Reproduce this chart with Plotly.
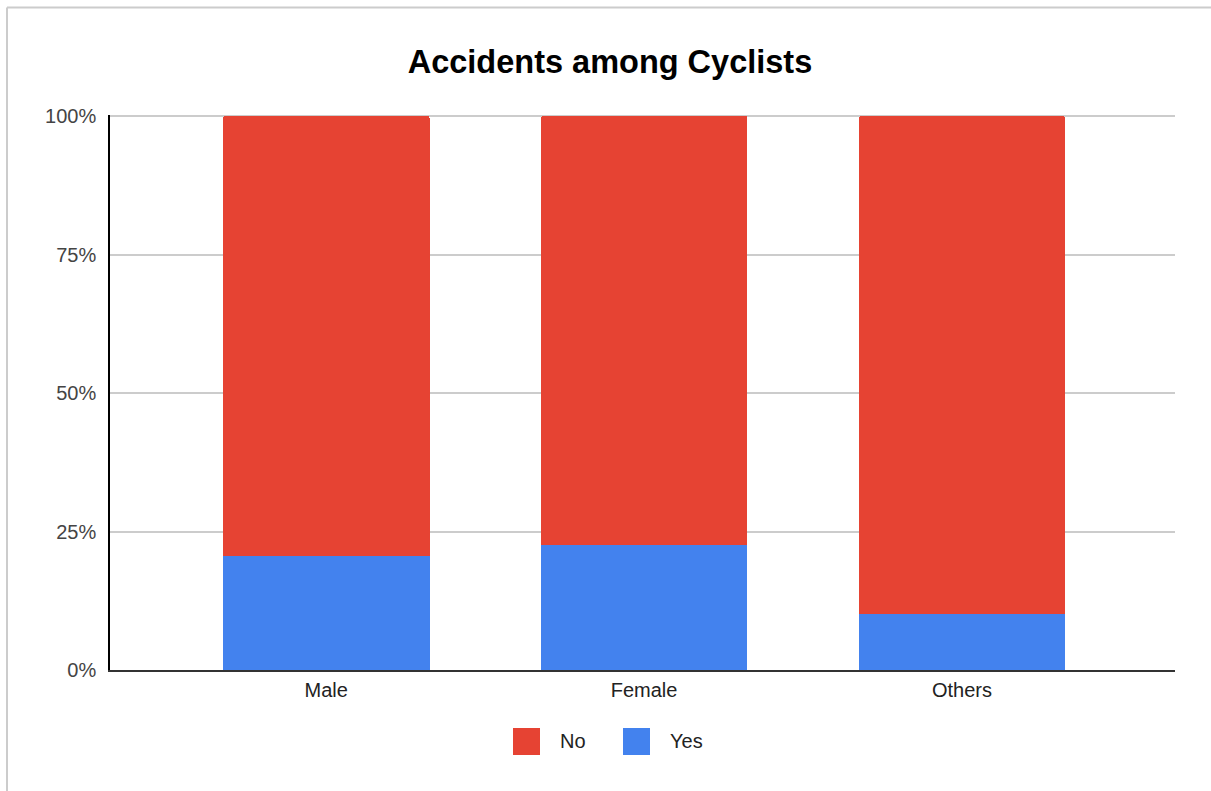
import plotly.graph_objects as go

# Share of cyclists who reported an accident, by gender (percent)
categories = ["Male", "Female", "Others"]
yes_share = [20.6, 22.6, 10.1]
no_share = [100 - v for v in yes_share]
y_ticks = [0, 25, 50, 75, 100]
y_tick_labels = ["0%", "25%", "50%", "75%", "100%"]

RED = "#e64333"
BLUE = "#4382ee"
FONT = "Liberation Sans, Arial"

W, H = 1211, 791
L, R, T, B = 110, 36, 115, 121
PW, PH = W - L - R, H - T - B


def px_x(p):
    return (p - L) / PW


def px_y(p):
    return (H - B - p) / PH


fig = go.Figure()
fig.add_trace(go.Bar(x=categories, y=yes_share, name="Yes", marker_color=BLUE,
                     marker_line_width=0, showlegend=False))
fig.add_trace(go.Bar(x=categories, y=no_share, name="No", marker_color=RED,
                     marker_line_width=0, showlegend=False))

shapes = [
    # outer frame (top and left edges)
    dict(type="line", xref="paper", yref="paper", x0=px_x(7), x1=px_x(W + 5),
         y0=px_y(7.5), y1=px_y(7.5), line=dict(color="#cccccc", width=2)),
    dict(type="line", xref="paper", yref="paper", x0=px_x(7), x1=px_x(7),
         y0=px_y(7.5), y1=px_y(H + 5), line=dict(color="#cccccc", width=2)),
]

annotations = []
# legend swatches and labels
legend_items = [("No", RED, 513, 558), ("Yes", BLUE, 623, 668)]
for label, color, sx, tx in legend_items:
    shapes.append(dict(type="rect", xref="paper", yref="paper",
                       x0=px_x(sx), x1=px_x(sx + 27),
                       y0=px_y(728), y1=px_y(755),
                       fillcolor=color, line=dict(width=0), layer="above"))
    annotations.append(dict(xref="paper", yref="paper", x=px_x(tx), y=px_y(741),
                            text=label, showarrow=False, xanchor="left",
                            yanchor="middle",
                            font=dict(family=FONT, size=20, color="#222222")))

fig.update_layout(
    width=W, height=H,
    margin=dict(l=L, r=R, t=T, b=B, pad=0),
    paper_bgcolor="white", plot_bgcolor="white",
    barmode="stack", bargap=0.35, barcornerradius=2,
    title=dict(text="<b>Accidents among Cyclists</b>", x=610 / W, xref="container",
               xanchor="center", y=1 - 62 / H, yanchor="middle",
               font=dict(family=FONT, size=32.5, color="#000000")),
    xaxis=dict(range=[-0.68, 2.67], showgrid=False, ticks="",
               showline=True, linecolor="#333333", linewidth=2,
               ticklabelstandoff=1,
               tickfont=dict(family=FONT, size=20, color="#222222"),
               fixedrange=True),
    yaxis=dict(range=[0, 100.2], tickvals=y_ticks, ticktext=y_tick_labels,
               showgrid=True, gridcolor="#cccccc", gridwidth=1.5,
               zeroline=False, showline=True, linecolor="#000000", linewidth=1.5,
               ticks="", ticklabelstandoff=8,
               tickfont=dict(family=FONT, size=20, color="#444444"),
               fixedrange=True),
    shapes=shapes,
    annotations=annotations,
)

fig.write_html("out.html")
